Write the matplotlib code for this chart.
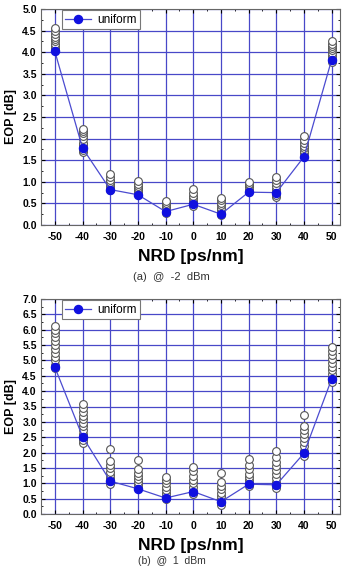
import numpy as np
import matplotlib
matplotlib.use("Agg")
import matplotlib.pyplot as plt
from matplotlib.ticker import MultipleLocator

plt.rcParams['font.family'] = ['Liberation Sans', 'DejaVu Sans']
plt.rcParams['axes.unicode_minus'] = False

nrd = [-50, -40, -30, -20, -10, 0, 10, 20, 30, 40, 50]

# (a) @ -2 dBm
uniform_a = [4.02, 1.78, 0.82, 0.70, 0.31, 0.48, 0.25, 0.76, 0.75, 1.58, 3.83]
others_a = [
    [4.05, 4.10, 4.15, 4.20, 4.25, 4.30, 4.35, 4.42, 4.50, 4.57],
    [1.70, 1.74, 1.80, 1.85, 1.90, 2.00, 2.06, 2.12, 2.17, 2.22],
    [0.80, 0.85, 0.90, 0.95, 1.00, 1.05, 1.10, 1.17],
    [0.72, 0.76, 0.80, 0.85, 0.90, 0.95, 1.02],
    [0.28, 0.33, 0.38, 0.42, 0.47, 0.51, 0.55],
    [0.45, 0.50, 0.56, 0.62, 0.68, 0.75, 0.83],
    [0.22, 0.28, 0.34, 0.40, 0.46, 0.52, 0.57, 0.62],
    [0.78, 0.82, 0.87, 0.92, 0.96, 1.00],
    [0.65, 0.70, 0.76, 0.83, 0.90, 0.97, 1.04, 1.10],
    [1.60, 1.66, 1.72, 1.78, 1.84, 1.90, 1.97, 2.05],
    [3.78, 3.85, 3.92, 3.98, 4.04, 4.10, 4.15, 4.20, 4.27],
]

# (b) @ 1 dBm
uniform_b = [4.78, 2.52, 1.07, 0.82, 0.52, 0.73, 0.40, 0.97, 0.95, 1.98, 4.40]
others_b = [
    [4.75, 4.85, 5.00, 5.12, 5.25, 5.38, 5.50, 5.62, 5.75, 5.90, 6.00, 6.12],
    [2.30, 2.40, 2.52, 2.62, 2.75, 2.85, 2.95, 3.08, 3.20, 3.32, 3.45, 3.58],
    [0.98, 1.08, 1.18, 1.28, 1.38, 1.50, 1.60, 1.72, 2.12],
    [0.85, 0.95, 1.05, 1.15, 1.25, 1.35, 1.45, 1.77],
    [0.48, 0.58, 0.68, 0.78, 0.88, 1.00, 1.10, 1.22],
    [0.65, 0.75, 0.88, 1.00, 1.12, 1.25, 1.40, 1.53],
    [0.30, 0.40, 0.50, 0.60, 0.70, 0.80, 0.92, 1.05, 1.35],
    [0.90, 1.00, 1.10, 1.20, 1.30, 1.45, 1.58, 1.78],
    [0.85, 0.95, 1.05, 1.18, 1.30, 1.42, 1.55, 1.68, 1.85, 2.05],
    [1.90, 2.05, 2.20, 2.35, 2.48, 2.60, 2.75, 2.88, 3.23],
    [4.30, 4.42, 4.55, 4.68, 4.80, 4.92, 5.05, 5.18, 5.30, 5.43],
]

grid_col = '#4848c8'
line_col = '#4b4bd0'


def draw(ax, uniform, others, ymax, ystep):
    for x, vals in zip(nrd, others):
        ax.plot([x] * len(vals), vals, 'o', ms=5.6, mfc='white', mec='#555555',
                mew=0.8, zorder=3, clip_on=False)
    ax.plot(nrd, uniform, '-o', color=line_col, lw=0.9, ms=5.8, mfc='#1010e0',
            mec='#1010e0', zorder=4, label='uniform', clip_on=False)
    ax.set_xlim(-55, 53)
    ax.set_ylim(0, ymax)
    ax.xaxis.set_major_locator(MultipleLocator(10))
    ax.xaxis.set_minor_locator(MultipleLocator(5))
    ax.yaxis.set_major_locator(MultipleLocator(ystep))
    ax.yaxis.set_minor_locator(MultipleLocator(ystep / 2))
    ax.grid(True, which='major', color=grid_col, lw=0.9)
    ax.set_axisbelow(True)
    ax.tick_params(which='both', direction='in', top=True, right=True,
                   labelsize=7.5)
    ax.tick_params(axis='x', pad=5)
    ax.tick_params(axis='y', pad=3)
    ax.tick_params(which='major', length=3)
    ax.tick_params(which='minor', length=1.5)
    for lab in ax.get_xticklabels() + ax.get_yticklabels():
        lab.set_fontweight('bold')
    for s in ax.spines.values():
        s.set_color('#666666')
        s.set_linewidth(0.8)
    ax.set_xlabel('NRD [ps/nm]', fontsize=12.5, fontweight='bold', labelpad=5)
    ax.set_ylabel('EOP [dB]', fontsize=9, fontweight='bold', labelpad=4)
    leg = ax.legend(loc='upper left', bbox_to_anchor=(0.065, 1.0), fontsize=8.5,
                    handlelength=2.2, borderpad=0.3, handletextpad=0.5,
                    borderaxespad=0.1, fancybox=False, framealpha=1)
    leg.get_frame().set_edgecolor('#777777')
    leg.get_frame().set_linewidth(0.8)


fig = plt.figure(figsize=(3.43, 5.67), dpi=100)
ax1 = fig.add_axes([41 / 343, 1 - 225 / 567, 299 / 343, 216 / 567])
ax2 = fig.add_axes([41 / 343, 1 - 514 / 567, 299 / 343, 215 / 567])

draw(ax1, uniform_a, others_a, 5.0, 0.5)
draw(ax2, uniform_b, others_b, 7.0, 0.5)

fig.text(0.5, 1 - 277 / 567, '(a)  @  -2  dBm', ha='center', va='center',
         fontsize=8, color='#333333')
fig.text(0.5, 1 / 567, '(b)  @  1  dBm', ha='center', va='bottom',
         fontsize=7.5, color='#333333')

fig.savefig('out.png', dpi=100)
